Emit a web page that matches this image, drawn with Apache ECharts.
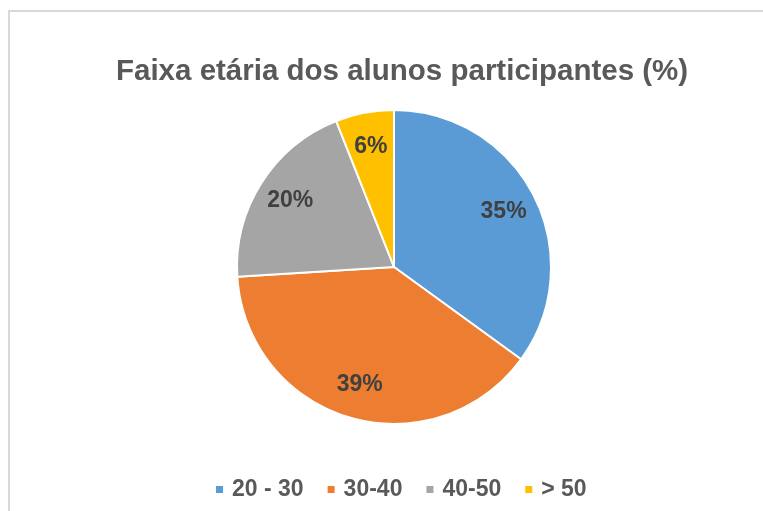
<!DOCTYPE html>
<html>
<head>
<meta charset="utf-8">
<script src="https://cdn.jsdelivr.net/npm/echarts@6/dist/echarts.min.js"></script>
<style>
  html, body { margin: 0; padding: 0; background: #fff; }
  #chart { width: 763px; height: 511px; }
</style>
</head>
<body>
<div id="chart"></div>
<script>
// faixas etárias e percentuais
var categories = ['20 - 30', '30-40', '40-50', '> 50']
var values = [35, 39, 20, 6]
var colors = ['#5B9BD5', '#ED7D31', '#A5A5A5', '#FFC000']

var pieData = categories.map(function (name, i) {
  return { name: name, value: values[i], itemStyle: { color: colors[i] } }
})

var myChart = echarts.init(document.getElementById('chart'))
var option = {
  animation: false,
  graphic: [{
    type: 'rect',
    shape: { x: 9, y: 11, width: 800, height: 600 },
    style: { fill: 'none', stroke: '#d9d9d9', lineWidth: 2 },
    silent: true
  }],
  title: {
    text: 'Faixa etária dos alunos participantes (%)',
    left: 116,
    top: 57,
    padding: 0,
    textStyle: {
      color: '#595959',
      fontFamily: 'Liberation Sans, Arial',
      fontWeight: 'bold',
      fontSize: 29.5
    }
  },
  legend: {
    data: categories,
    left: 214,
    top: 478,
    padding: 0,
    icon: 'rect',
    itemWidth: 9,
    itemHeight: 9,
    itemGap: 22,
    textStyle: {
      color: '#595959',
      fontFamily: 'Liberation Sans, Arial',
      fontWeight: 'bold',
      fontSize: 23,
      padding: [0, 0, 0, 3]
    }
  },
  series: [{
    type: 'pie',
    center: [394, 267],
    radius: [0, 157],
    startAngle: 90,
    clockwise: true,
    label: { show: false },
    labelLine: { show: false },
    itemStyle: { borderColor: '#ffffff', borderWidth: 2 },
    emphasis: { disabled: true },
    data: pieData
  }, {
    // série transparente só para posicionar os rótulos
    type: 'pie',
    center: [394, 267],
    radius: [84, 156],
    startAngle: 90,
    clockwise: true,
    silent: true,
    itemStyle: { color: 'transparent', borderWidth: 0 },
    label: {
      show: true,
      position: 'inside',
      formatter: '{c}%',
      color: '#404040',
      fontFamily: 'Liberation Sans, Arial',
      fontWeight: 'bold',
      fontSize: 23
    },
    labelLine: { show: false },
    emphasis: { disabled: true },
    data: categories.map(function (name, i) {
      return { name: name, value: values[i] }
    })
  }]
}
myChart.setOption(option)
</script>
</body>
</html>
